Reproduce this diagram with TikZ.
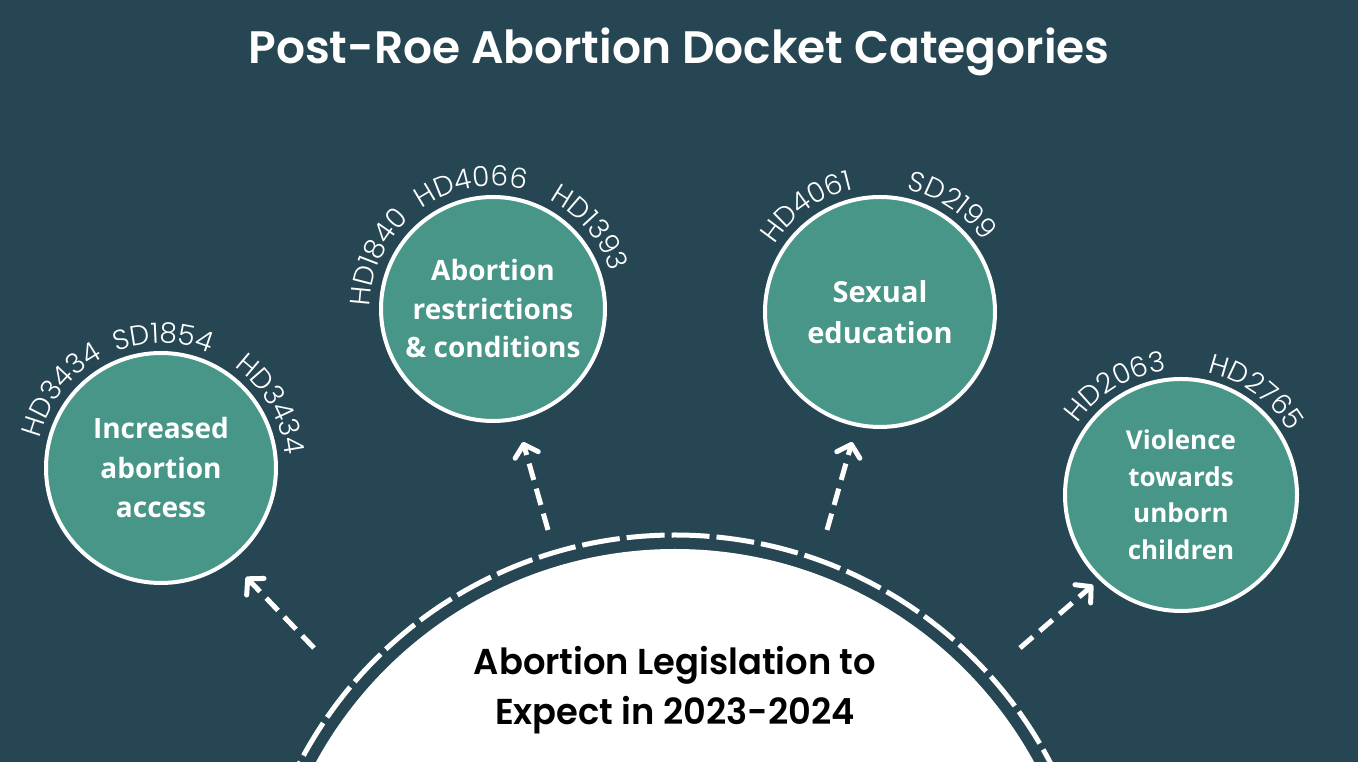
\documentclass[tikz,border=0pt]{standalone}
\usepackage{fontspec}
\usetikzlibrary{arrows.meta,decorations.text}
\setmainfont{Open Sans}
\newfontfamily\titlefont{Poppins}[UprightFont={* SemiBold}, FakeStretch=1.0]
\newfontfamily\hubfont{Poppins}[UprightFont={* SemiBold}, FakeStretch=0.98]
\newfontfamily\codefont{Poppins}[UprightFont={* Light}]
\newfontfamily\catfont{Open Sans}
\definecolor{bg}{HTML}{264653}
\definecolor{catfill}{HTML}{479688}
\newcommand{\arclabel}[4]{%
  \path[decorate, decoration={text along path, text color=white,
    text={|\codefont\fontsize{28}{28}\selectfont|#4}, text align=center}]
    ([shift={({#3+40}:#2)}]#1.center) arc[start angle={#3+40}, end angle={#3-40}, radius=#2];}
\begin{document}
\begin{tikzpicture}[x=1pt,y=1pt,
  catnode/.style={circle, draw=white, line width=4pt, fill=catfill, text=white,
    align=center, inner sep=0pt, font=\catfont\bfseries\fontsize{28}{39.5}\selectfont},
  flow/.style={draw=white, line width=5pt, dash pattern=on 17pt off 9pt,
    -{Straight Barb[length=11pt, width=24pt, round]}},
  ring/.style={draw=white, line width=5pt, dash pattern=on 38pt off 7pt}]
\fill[bg] (0,0) rectangle (1358,762);
\useasboundingbox (0,0) rectangle (1358,762);
\clip (0,0) rectangle (1358,762);
% title
\node[font=\titlefont\fontsize{45.5}{45.5}\selectfont, text=white, anchor=base, inner sep=0pt]
  (title) at (679,698.7) {Post-Roe Abortion Docket Categories};
% hub
\node[circle, fill=white, minimum size=818pt, inner sep=0pt] (hub) at (675,-196) {};
\draw[ring] (hub.center) circle[radius=423];
\node[font=\hubfont\fontsize{36}{36}\selectfont, text=black, anchor=base, inner sep=0pt]
  (hubtop) at (675,87) {Abortion Legislation to};
\node[font=\hubfont\fontsize{36}{36}\selectfont, text=black, anchor=base, inner sep=0pt]
  (hubbottom) at (675,37) {Expect in 2023-2024};
% categories
\node[catnode, minimum size=230pt] (c1) at (161,294) {Increased\\abortion\\access};
\node[catnode, minimum size=224pt, font=\catfont\bfseries\fontsize{28}{38.5}\selectfont] (c2) at (493,453) {Abortion\\restrictions\\\& conditions};
\node[catnode, minimum size=230pt, font=\catfont\bfseries\fontsize{29}{41}\selectfont] (c3) at (880,450) {Sexual\\education};
\node[catnode, minimum size=232pt, font=\catfont\bfseries\fontsize{26}{36.5}\selectfont] (c4) at (1181,267) {Violence\\towards\\unborn\\children};
% bill labels
\arclabel{c1}{125}{142}{HD3434}
\arclabel{c1}{125}{89}{SD1854}
\arclabel{c1}{125}{30}{HD3434}
\arclabel{c2}{123}{156}{HD1840}
\arclabel{c2}{123}{100}{HD4066}
\arclabel{c2}{123}{40}{HD1393}
\arclabel{c3}{125}{125}{HD4061}
\arclabel{c3}{125}{56}{SD2199}
\arclabel{c4}{125}{121}{HD2063}
\arclabel{c4}{125}{54}{HD2765}
% arrows
\coordinate (a1s) at (314,114); \coordinate (a1e) at (246,185);
\coordinate (a2s) at (548,232); \coordinate (a2e) at (523,320);
\coordinate (a3s) at (827,232); \coordinate (a3e) at (852,320);
\coordinate (a4s) at (1020,114); \coordinate (a4e) at (1093,177);
\draw[flow] (a1s) -- (a1e);
\draw[flow] (a2s) -- (a2e);
\draw[flow] (a3s) -- (a3e);
\draw[flow] (a4s) -- (a4e);
\end{tikzpicture}
\end{document}
